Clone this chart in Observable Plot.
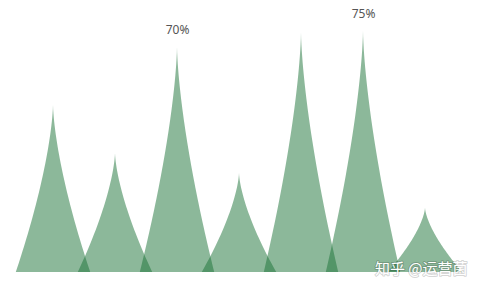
<!DOCTYPE html>
<html><head><meta charset="utf-8">
<script src="https://cdn.jsdelivr.net/npm/d3@7"></script>
<script src="https://cdn.jsdelivr.net/npm/@observablehq/plot@0.6"></script>
<style>body{margin:0;background:#fff;}</style>
</head><body><div id="chart"></div>
<script>
const categories = ["A", "B", "C", "D", "E", "F", "G"];
const values = [52, 37, 70, 30.8, 74.5, 75, 20];
const labels = ["", "", "70%", "", "", "75%", ""];
const watermark = "知乎 @运营菌";

const data = categories.map((c, i) => ({category: c, value: values[i], label: labels[i]}));

function spikeRender(index, scales, vals, dimensions, context) {
  const svgNS = "http://www.w3.org/2000/svg";
  const g = context.document.createElementNS(svgNS, "g");
  const nb = categories.length;
  const bw = scales.x.bandwidth ? scales.x.bandwidth()
    : (dimensions.width - dimensions.marginLeft - dimensions.marginRight) / nb;
  const y0 = scales.y(0);
  const N = 40;
  for (const i of index) {
    const d = data[i];
    const cx = scales.x(d.category) + bw / 2;
    const yt = scales.y(d.value);
    const H = y0 - yt;
    const w = bw * 0.6;
    const right = [], left = [];
    for (let k = 0; k <= N; k++) {
      const h = k / N;
      const f = Math.pow(1 - h, 1.5);
      right.push([cx + w * f, y0 - h * H]);
      left.push([cx - w * f, y0 - h * H]);
    }
    const pts = right.concat(left.reverse());
    const p = context.document.createElementNS(svgNS, "path");
    p.setAttribute("d", "M" + pts.map(q => q[0].toFixed(2) + "," + q[1].toFixed(2)).join("L") + "Z");
    p.setAttribute("fill", "#197135");
    p.setAttribute("fill-opacity", "0.5");
    g.appendChild(p);
  }
  return g;
}

const chart = Plot.plot({
  width: 480,
  height: 288,
  marginLeft: 22,
  marginRight: 24,
  marginTop: 15,
  marginBottom: 16,
  x: {domain: categories, padding: 0, axis: null},
  y: {domain: [0, 80], axis: null},
  style: {background: "#fff", fontFamily: "'Microsoft YaHei', 'Noto Sans', sans-serif"},
  marks: [
    Plot.barY(data, {x: "category", y: "value", render: spikeRender}),
    Plot.text(data.filter(d => d.label), {
      x: "category", y: "value", text: "label", dy: -17,
      fill: "#555", fontSize: 12, lineAnchor: "middle"
    }),
    Plot.text([watermark], {
      frameAnchor: "bottom-right", text: d => d, dx: 11, dy: 1,
      fill: "white", stroke: "#000", strokeOpacity: 0.18, strokeWidth: 2,
      fontSize: 15, fontFamily: "'Noto Sans CJK SC', sans-serif"
    })
  ]
});
document.getElementById("chart").appendChild(chart);
</script>
</body></html>
